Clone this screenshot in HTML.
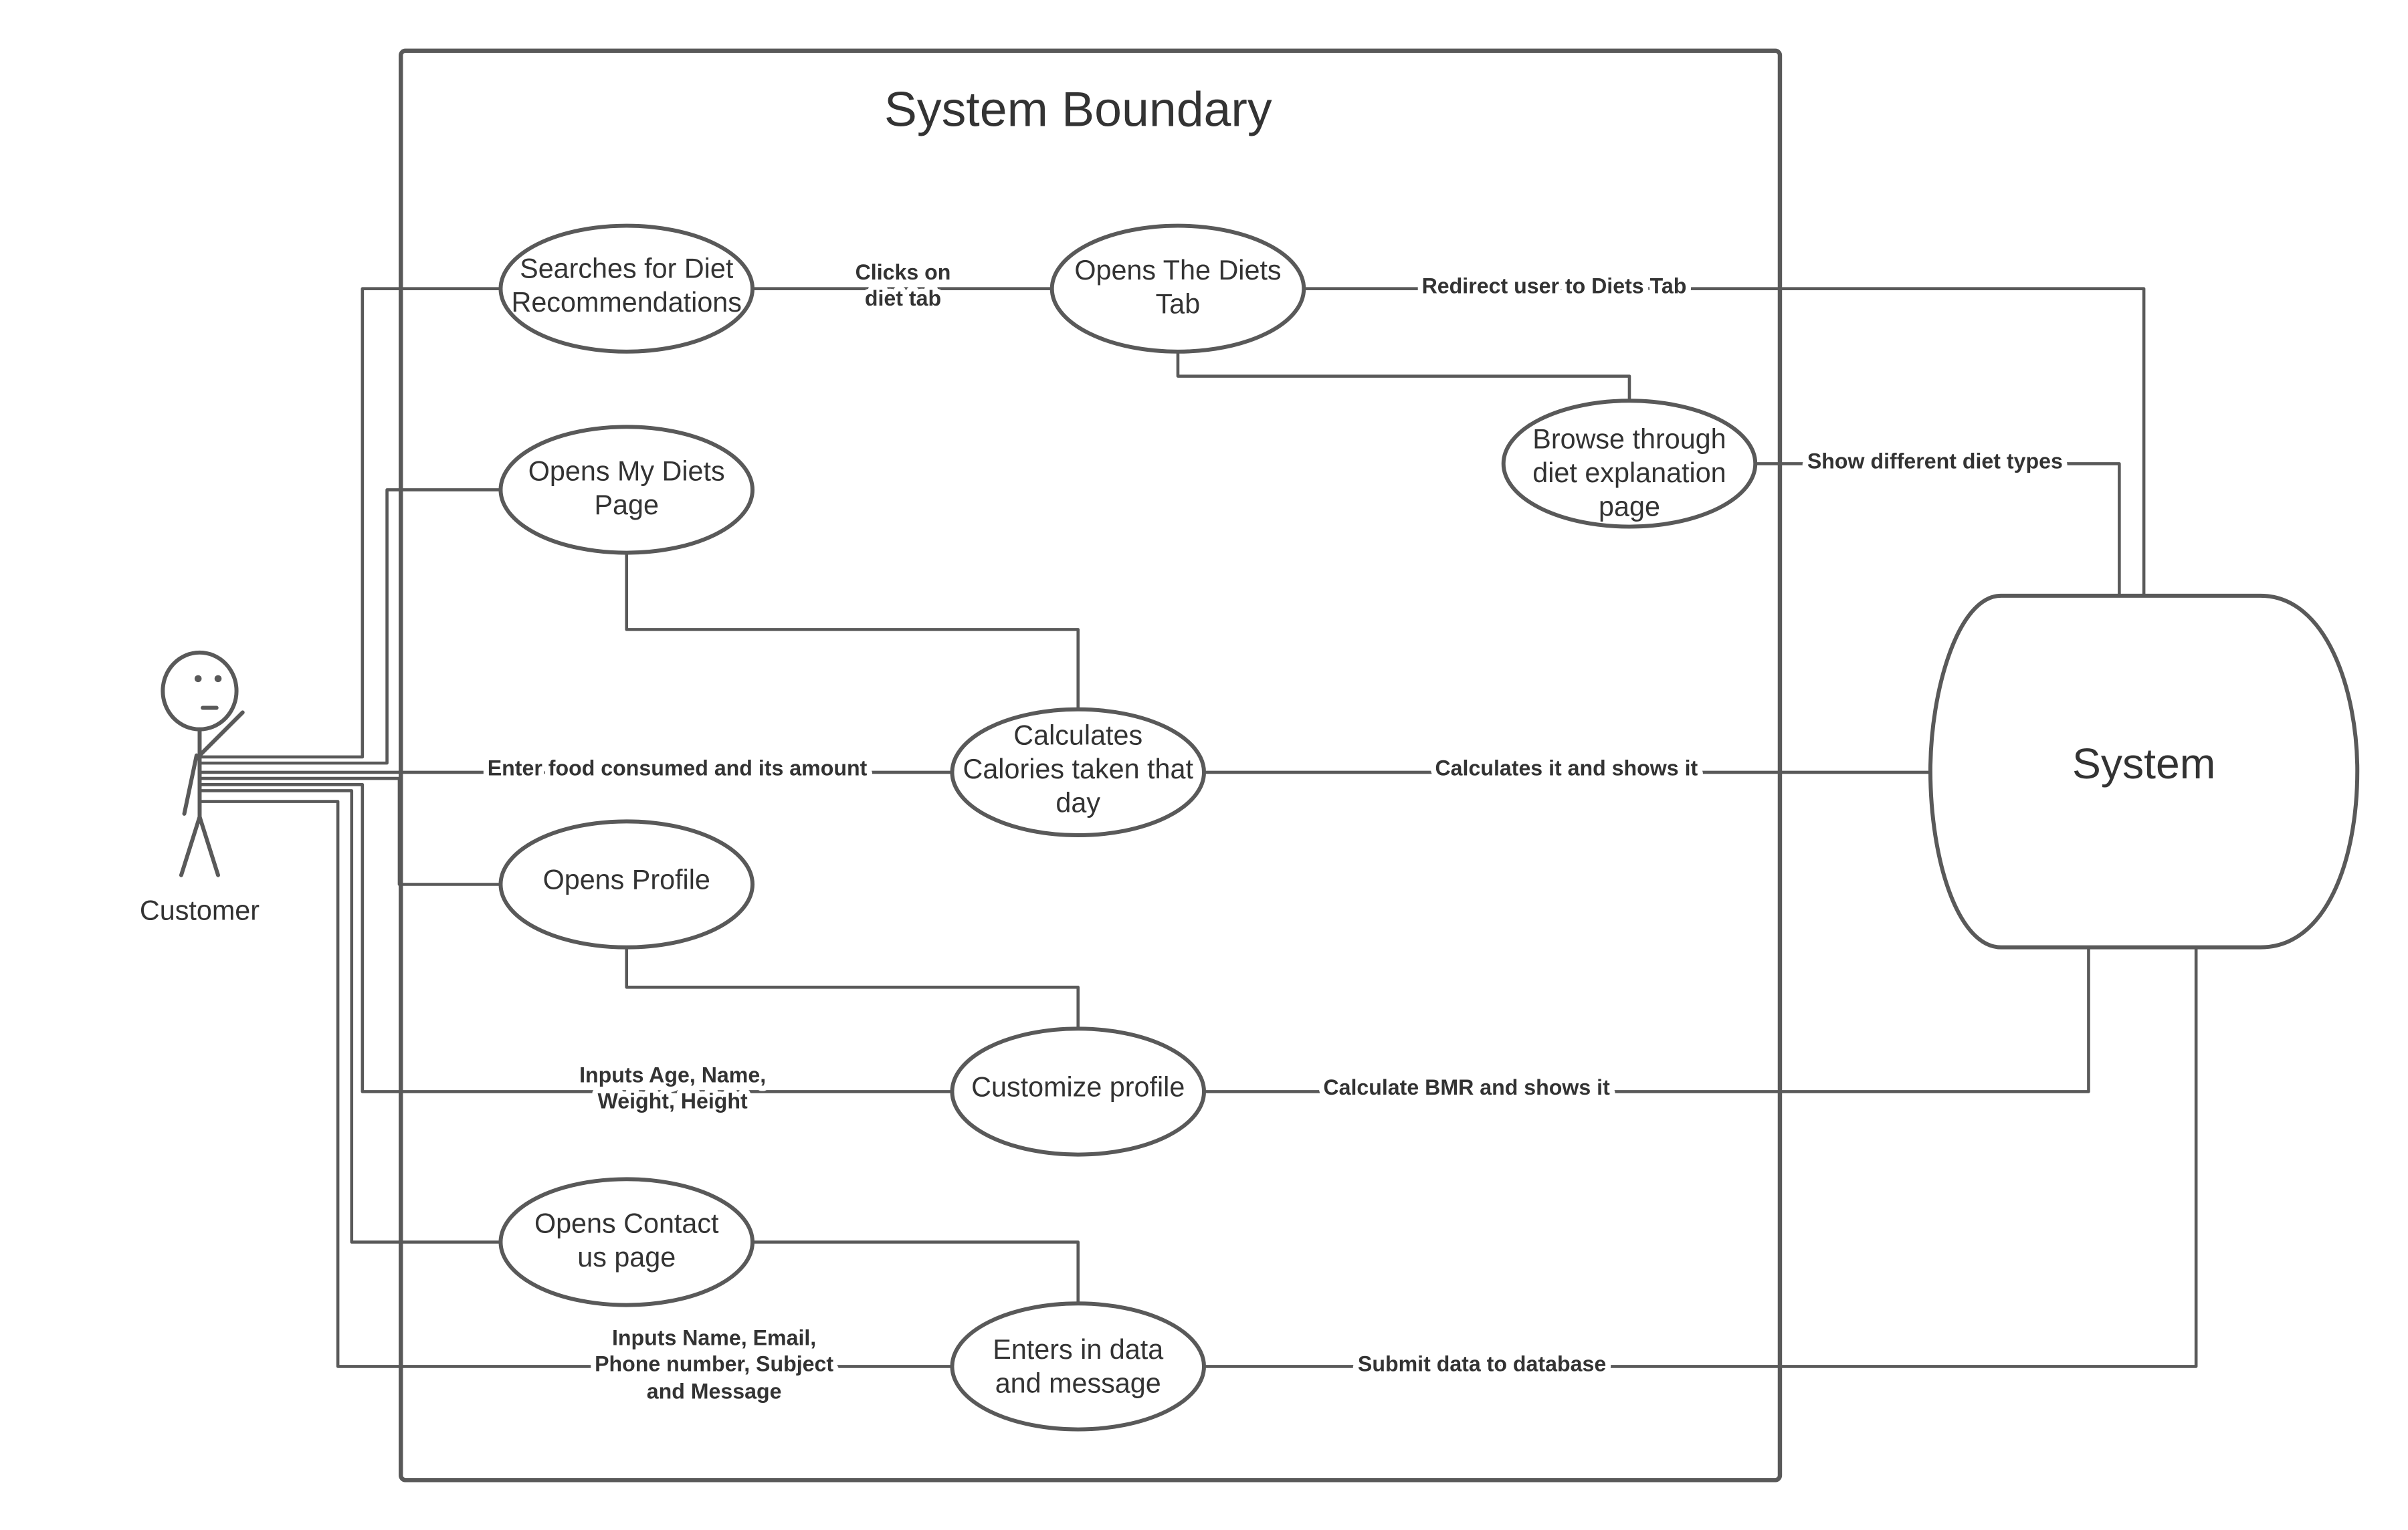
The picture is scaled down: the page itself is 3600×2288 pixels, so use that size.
<!DOCTYPE html>
<html><head><meta charset="utf-8"><style>
html,body{margin:0;padding:0;background:#fff;}
svg{display:block;}
.l{fill:none;stroke:#595959;stroke-width:2;stroke-linejoin:round;}
.e{fill:#fff;stroke:#595959;stroke-width:2.6;}
.t{font-family:"Liberation Sans",sans-serif;font-size:18px;fill:#333;text-anchor:middle;}
.b{font-family:"Liberation Sans",sans-serif;font-size:14px;font-weight:bold;fill:#333;text-anchor:middle;paint-order:stroke;stroke:#fff;stroke-width:7px;stroke-linejoin:round;}
</style></head><body>
<svg width="3600" height="2288" viewBox="0 0 1568 996.5" xmlns="http://www.w3.org/2000/svg">
<rect x="0" y="0" width="1568" height="996.5" fill="#fff"/>
<rect x="261" y="33" width="898" height="931" rx="3" fill="none" stroke="#595959" stroke-width="2.8"/>
<text x="702" y="82" class="t" style="font-size:32px">System Boundary</text>

<path class="l" d="M131,493 H236 V188 H326"/>
<path class="l" d="M131,497 H252 V319 H326"/>
<path class="l" d="M131,503 H620"/>
<path class="l" d="M131,507 H260 V576 H326"/>
<path class="l" d="M131,511 H236 V711 H620"/>
<path class="l" d="M131,515 H229 V809 H326"/>
<path class="l" d="M131,522 H220 V890 H620"/>

<path class="l" d="M490,188 H685"/>
<path class="l" d="M849,188 H1396 V388"/>
<path class="l" d="M767,229 V245 H1061 V261"/>
<path class="l" d="M1143,302 H1380 V388"/>
<path class="l" d="M408,360 V410 H702 V462"/>
<path class="l" d="M784,503 H1257"/>
<path class="l" d="M408,617 V643 H702 V670"/>
<path class="l" d="M784,711 H1360 V617"/>
<path class="l" d="M490,809 H702 V850"/>
<path class="l" d="M784,890 H1430 V617"/>

<ellipse class="e" cx="408" cy="188" rx="82" ry="41"/>
<text class="t" x="408" y="181">Searches for Diet</text>
<text class="t" x="408" y="203">Recommendations</text>
<ellipse class="e" cx="767" cy="188" rx="82" ry="41"/>
<text class="t" x="767" y="182">Opens The Diets</text>
<text class="t" x="767" y="204">Tab</text>
<ellipse class="e" cx="1061" cy="302" rx="82" ry="41"/>
<text class="t" x="1061" y="292">Browse through</text>
<text class="t" x="1061" y="314">diet explanation</text>
<text class="t" x="1061" y="336">page</text>
<ellipse class="e" cx="408" cy="319" rx="82" ry="41"/>
<text class="t" x="408" y="313">Opens My Diets</text>
<text class="t" x="408" y="335">Page</text>
<ellipse class="e" cx="702" cy="503" rx="82" ry="41"/>
<text class="t" x="702" y="485">Calculates</text>
<text class="t" x="702" y="507">Calories taken that</text>
<text class="t" x="702" y="529">day</text>
<ellipse class="e" cx="408" cy="576" rx="82" ry="41"/>
<text class="t" x="408" y="579">Opens Profile</text>
<ellipse class="e" cx="702" cy="711" rx="82" ry="41"/>
<text class="t" x="702" y="714">Customize profile</text>
<ellipse class="e" cx="408" cy="809" rx="82" ry="41"/>
<text class="t" x="408" y="803">Opens Contact</text>
<text class="t" x="408" y="825">us page</text>
<ellipse class="e" cx="702" cy="890" rx="82" ry="41"/>
<text class="t" x="702" y="885">Enters in data</text>
<text class="t" x="702" y="907">and message</text>

<path class="e" d="M1303,388 H1472 C1515,388 1535,450 1535,502 C1535,560 1515,617 1472,617 H1303 C1275,617 1257,560 1257,502 C1257,450 1275,388 1303,388 Z"/>
<text class="t" x="1396" y="507" style="font-size:28px">System</text>

<text class="b" x="588" y="182">Clicks on</text>
<text class="b" x="588" y="199">diet tab</text>
<text class="b" x="1012" y="191">Redirect user to Diets Tab</text>
<text class="b" x="1260" y="305">Show different diet types</text>
<text class="b" x="441" y="505">Enter food consumed and its amount</text>
<text class="b" x="1020" y="505">Calculates it and shows it</text>
<text class="b" x="438" y="705">Inputs Age, Name,</text>
<text class="b" x="438" y="722">Weight, Height</text>
<text class="b" x="955" y="713">Calculate BMR and shows it</text>
<text class="b" x="465" y="876">Inputs Name,  Email,</text>
<text class="b" x="465" y="893">Phone number, Subject</text>
<text class="b" x="465" y="911">and Message</text>
<text class="b" x="965" y="893">Submit data to database</text>

<g fill="none" stroke="#595959" stroke-width="2.6" stroke-linecap="round">
<ellipse cx="130" cy="450" rx="24" ry="25" fill="#fff"/>
<line x1="132" y1="461" x2="141" y2="461"/>
<line x1="130" y1="475" x2="130" y2="532"/>
<line x1="130" y1="492" x2="158" y2="464"/>
<line x1="128" y1="492" x2="120" y2="530"/>
<line x1="130" y1="532" x2="118" y2="570"/>
<line x1="130" y1="532" x2="142" y2="570"/>
</g>
<circle cx="129" cy="442" r="2.3" fill="#595959"/>
<circle cx="142" cy="442" r="2.3" fill="#595959"/>
<text class="t" x="130" y="599">Customer</text>
</svg>
</body></html>
